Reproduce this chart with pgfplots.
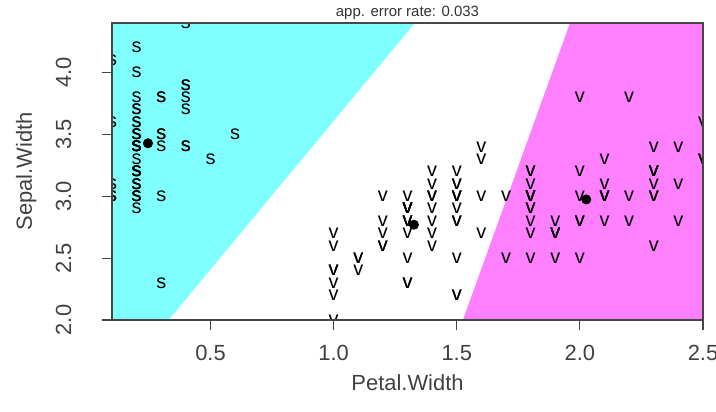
\documentclass[border=0pt]{standalone}
\usepackage{pgfplots}
\pgfplotsset{compat=1.18}
\usepackage{fontspec}
\setmainfont{Liberation Sans}
\definecolor{cmcyan}{HTML}{80FFFF}
\definecolor{cmmag}{HTML}{FF80FF}
\definecolor{misred}{RGB}{225,45,40}
\definecolor{axgray}{RGB}{70,70,70}
\newcommand{\mk}{\fontsize{10}{10}\selectfont}
\begin{document}
\begin{tikzpicture}
\path[use as bounding box] (0,0) rectangle (358bp,206bp);
\begin{axis}[
  at={(56bp,46bp)}, anchor=south west,
  scale only axis, width=295.5bp, height=148.5bp,
  xmin=0.1, xmax=2.5, ymin=2.0, ymax=4.4,
  axis on top, clip marker paths=true,
  axis line style={axgray, line width=0.6bp},
  tick pos=left, tick align=outside, major tick length=5bp,
  tick style={axgray, line width=0.6bp},
  xtick={0.5,1.0,1.5,2.0,2.5}, ytick={2.0,2.5,3.0,3.5,4.0},
  /pgf/number format/assume math mode=true,
  /pgf/number format/.cd, fixed, fixed zerofill, precision=1, /pgfplots/.cd,
  ticklabel style={font=\fontsize{11}{11}\selectfont, text=black!75},
  xticklabel style={anchor=base, inner sep=0pt, yshift=-15bp},
  yticklabel style={xshift=-15.5bp, rotate=90, anchor=base, inner sep=0pt},
  every axis title shift=0pt,
  title={app. error rate: 0.033},
  title style={at={(axis description cs:0.5,1)}, anchor=base, yshift=3.5bp, inner sep=0pt, font=\fontsize{7.5}{7.5}\selectfont, text=black!80},
  xlabel={Petal.Width},
  ylabel={Sepal.Width},
  xlabel style={at={(axis description cs:0.5,-0.2384)}, anchor=base, inner sep=0pt, font=\fontsize{11}{11}\selectfont, text=black!75},
  ylabel style={at={(axis description cs:-0.1354,0.5)}, anchor=base, rotate=0, inner sep=0pt, font=\fontsize{11}{11}\selectfont, text=black!75},
]
% decision regions (LDA partition)
\addplot[fill=cmcyan, draw=none] coordinates {(0.1,2.0) (0.33,2.0) (1.33,4.4) (0.1,4.4)} -- cycle;
\addplot[fill=cmmag, draw=none] coordinates {(1.525,2.0) (2.5,2.0) (2.5,4.4) (1.96,4.4)} -- cycle;
% setosa
\addplot[only marks, color=black!90, mark=text, text mark={\mk s}] coordinates {
(0.2,3.5)(0.2,3.0)(0.2,3.2)(0.2,3.1)(0.2,3.6)(0.4,3.9)(0.3,3.4)(0.2,3.4)(0.2,2.9)(0.1,3.1)
(0.2,3.7)(0.2,3.4)(0.1,3.0)(0.1,3.0)(0.2,4.0)(0.4,4.4)(0.4,3.9)(0.3,3.5)(0.3,3.8)(0.3,3.8)
(0.2,3.4)(0.4,3.7)(0.2,3.6)(0.5,3.3)(0.2,3.4)(0.2,3.0)(0.4,3.4)(0.2,3.5)(0.2,3.4)(0.2,3.2)
(0.2,3.1)(0.4,3.4)(0.1,4.1)(0.2,4.2)(0.2,3.1)(0.2,3.2)(0.2,3.5)(0.1,3.6)(0.2,3.0)(0.2,3.4)
(0.3,3.5)(0.3,2.3)(0.2,3.2)(0.6,3.5)(0.4,3.8)(0.3,3.0)(0.2,3.8)(0.2,3.2)(0.2,3.7)(0.2,3.3)};
% versicolor
\addplot[only marks, color=black!90, mark=text, text mark={\mk v}] coordinates {
(1.4,3.2)(1.5,3.2)(1.5,3.1)(1.3,2.3)(1.5,2.8)(1.3,2.8)(1.6,3.3)(1.0,2.4)(1.3,2.9)(1.4,2.7)
(1.0,2.0)(1.5,3.0)(1.0,2.2)(1.4,2.9)(1.3,2.9)(1.4,3.1)(1.5,3.0)(1.0,2.7)(1.5,2.2)(1.1,2.5)
(1.8,3.2)(1.3,2.8)(1.5,2.5)(1.2,2.8)(1.3,2.9)(1.4,3.0)(1.4,2.8)(1.7,3.0)(1.5,2.9)(1.0,2.6)
(1.1,2.4)(1.0,2.4)(1.2,2.7)(1.6,2.7)(1.5,3.0)(1.6,3.4)(1.5,3.1)(1.3,2.3)(1.3,3.0)(1.3,2.5)
(1.2,2.6)(1.4,3.0)(1.2,2.6)(1.0,2.3)(1.3,2.7)(1.2,3.0)(1.3,2.9)(1.3,2.9)(1.1,2.5)(1.3,2.8)};
% virginica (correctly classified)
\addplot[only marks, color=black!90, mark=text, text mark={\mk v}] coordinates {
(2.5,3.3)(1.9,2.7)(2.1,3.0)(1.8,2.9)(2.2,3.0)(2.1,3.0)(1.7,2.5)(1.8,2.9)(1.8,2.5)(2.5,3.6)
(2.0,3.2)(1.9,2.7)(2.1,3.0)(2.0,2.5)(2.4,2.8)(2.3,3.2)(1.8,3.0)(2.2,3.8)(2.3,2.6)
(2.3,3.2)(2.0,2.8)(2.0,2.8)(1.8,2.7)(2.1,3.3)(1.8,3.2)(1.8,2.8)(1.8,3.0)(2.1,2.8)
(1.9,2.8)(2.0,3.8)(2.2,2.8)(2.3,3.0)(2.4,3.4)(1.8,3.1)(1.8,3.0)
(2.1,3.1)(2.4,3.1)(2.3,3.1)(1.9,2.7)(2.3,3.2)(2.5,3.3)(2.3,3.0)(1.9,2.5)(2.0,3.0)(2.3,3.4)(1.8,3.0)};
% virginica misclassified
\addplot[only marks, color=misred, mark=text, text mark={\mk v}] coordinates {
(1.5,2.2)(1.6,3.0)(1.5,2.8)(1.4,2.6)};
% class means
\addplot[only marks, mark=*, mark size=2.3bp, black] coordinates {(0.246,3.428) (1.326,2.770) (2.026,2.974)};
\end{axis}
\end{tikzpicture}
\end{document}
